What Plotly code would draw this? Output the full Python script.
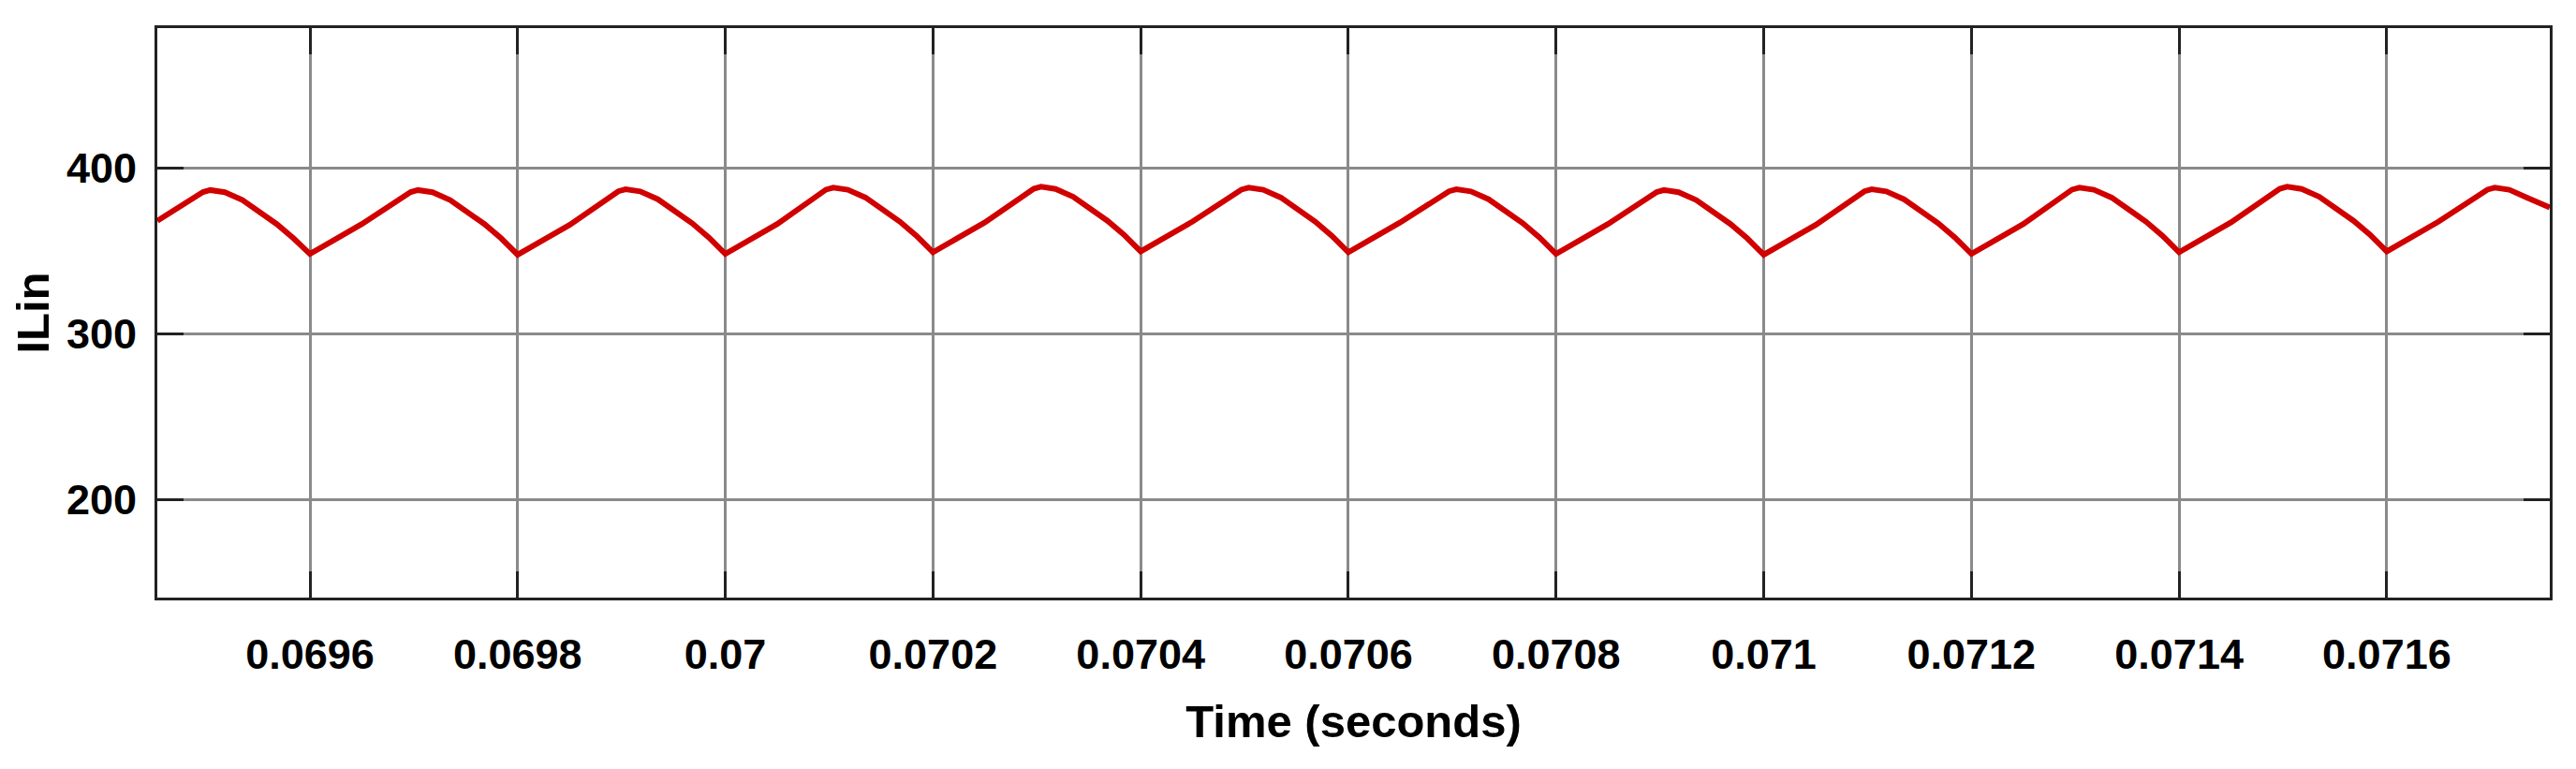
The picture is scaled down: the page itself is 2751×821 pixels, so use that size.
import plotly.graph_objects as go

# Time (s) and inductor input current ILin
time_s = [
    0.069453, 0.06949, 0.069497, 0.069504, 0.069511, 0.069518, 0.069535, 0.069552, 0.069568, 0.069584,
    0.0696, 0.06965, 0.06969, 0.069697, 0.069704, 0.069711, 0.069718, 0.069735, 0.069752, 0.069768, 0.069784,
    0.0698, 0.06985, 0.06989, 0.069897, 0.069904, 0.069911, 0.069918, 0.069935, 0.069952, 0.069968, 0.069984,
    0.0700, 0.07005, 0.07009, 0.070097, 0.070104, 0.070111, 0.070118, 0.070135, 0.070152, 0.070168, 0.070184,
    0.0702, 0.07025, 0.07029, 0.070297, 0.070304, 0.070311, 0.070318, 0.070335, 0.070352, 0.070368, 0.070384,
    0.0704, 0.07045, 0.07049, 0.070497, 0.070504, 0.070511, 0.070518, 0.070535, 0.070552, 0.070568, 0.070584,
    0.0706, 0.07065, 0.07069, 0.070697, 0.070704, 0.070711, 0.070718, 0.070735, 0.070752, 0.070768, 0.070784,
    0.0708, 0.07085, 0.07089, 0.070897, 0.070904, 0.070911, 0.070918, 0.070935, 0.070952, 0.070968, 0.070984,
    0.0710, 0.07105, 0.07109, 0.071097, 0.071104, 0.071111, 0.071118, 0.071135, 0.071152, 0.071168, 0.071184,
    0.0712, 0.07125, 0.07129, 0.071297, 0.071304, 0.071311, 0.071318, 0.071335, 0.071352, 0.071368, 0.071384,
    0.0714, 0.07145, 0.07149, 0.071497, 0.071504, 0.071511, 0.071518, 0.071535, 0.071552, 0.071568, 0.071584,
    0.0716, 0.07165, 0.07169, 0.071697, 0.071704, 0.071711, 0.071718, 0.071735, 0.071757,
]
ilin = [
    368, 383, 385.3, 386.5, 386.1, 385.2, 380.5, 373.5, 366, 357.5,
    348, 366, 383, 385.3, 386.5, 386.1, 385.2, 380.5, 373.5, 366, 357.5,
    347.5, 365.5, 383.5, 385.8, 387, 386.6, 385.7, 381, 374, 366.5, 358,
    348, 366, 384.5, 386.8, 388, 387.6, 386.7, 382, 375, 367.5, 359,
    349, 367, 385, 387.3, 388.5, 388.1, 387.2, 382.5, 375.5, 368, 359.5,
    349.5, 367.5, 384.5, 386.8, 388, 387.6, 386.7, 382, 375, 367.5, 359,
    349, 367, 383.5, 385.8, 387, 386.6, 385.7, 381, 374, 366.5, 358,
    348, 366, 383, 385.3, 386.5, 386.1, 385.2, 380.5, 373.5, 366, 357.5,
    347.5, 365.5, 383.5, 385.8, 387, 386.6, 385.7, 381, 374, 366.5, 358,
    348, 366, 384.5, 386.8, 388, 387.6, 386.7, 382, 375, 367.5, 359,
    349, 367, 385, 387.3, 388.5, 388.1, 387.2, 382.5, 375.5, 368, 359.5,
    349.5, 367.5, 384.5, 386.8, 388, 387.6, 386.7, 382, 376,
]

x_tickvals = [0.0696, 0.0698, 0.0700, 0.0702, 0.0704, 0.0706, 0.0708,
              0.0710, 0.0712, 0.0714, 0.0716]
x_ticktext = ["0.0696", "0.0698", "0.07", "0.0702", "0.0704", "0.0706",
              "0.0708", "0.071", "0.0712", "0.0714", "0.0716"]
y_tickvals = [200, 300, 400]
y_ticktext = ["200", "300", "400"]

FONT = "Liberation Sans Narrow, Arial Narrow, Liberation Sans, Arial, sans-serif"

fig = go.Figure()
fig.add_trace(go.Scatter(
    x=time_s, y=ilin, mode="lines",
    line=dict(color="#d00000", width=6),
    showlegend=False, hoverinfo="skip",
))

axis_common = dict(
    showline=True, linecolor="#222222", linewidth=3, mirror="ticks",
    ticks="inside", ticklen=28, tickwidth=3, tickcolor="#222222",
    showgrid=True, gridcolor="#8a8a8a", gridwidth=2.5,
    zeroline=False, automargin=False,
    tickfont=dict(family=FONT, size=45, color="black", weight="bold"),
)

# page body has an 8px default margin, so the figure is sized to fit the window
fig.update_layout(
    width=2735, height=805,
    margin=dict(l=160, r=20, t=22, b=175),
    paper_bgcolor="white", plot_bgcolor="white",
    xaxis=dict(
        range=[0.069453, 0.071757],
        tickmode="array", tickvals=x_tickvals, ticktext=x_ticktext,
        ticklabelstandoff=19,
        title=dict(text="Time (seconds)", standoff=30,
                   font=dict(family=FONT, size=49, color="black", weight="bold")),
        **axis_common,
    ),
    yaxis=dict(
        range=[140.7, 484.2],
        tickmode="array", tickvals=y_tickvals, ticktext=y_ticktext,
        ticklabelstandoff=10,
        title=dict(text="ILin", standoff=22,
                   font=dict(family=FONT, size=49, color="black", weight="bold")),
        **axis_common,
    ),
)

fig.write_html("out.html")
